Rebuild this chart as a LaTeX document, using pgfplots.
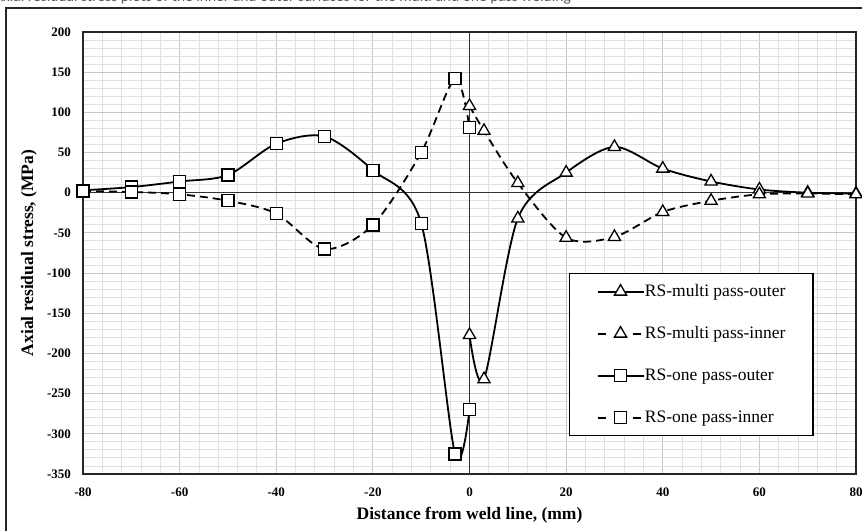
\documentclass[border=0pt]{standalone}
\usepackage{fontspec}
\setmainfont{Liberation Serif}
\newfontfamily\capfont{Carlito}
\usepackage{pgfplots}
\usepackage{pgfplotstable}
\pgfplotsset{compat=1.18}
% legend sample: a line with the marker at its middle
\pgfplotsset{
  solidlegend/.style={legend image code/.code={
    \draw[##1, mark repeat=2, mark phase=2] plot coordinates {(0bp,0bp) (23bp,0bp) (46bp,0bp)};}},
  dashlegend/.style={legend image code/.code={
    \draw[##1, dash pattern=on 8bp off 27bp, mark repeat=2, mark phase=2] plot coordinates {(0bp,0bp) (23bp,0bp) (46bp,0bp)};}},
}

% Axial residual stress (MPa) against distance from the weld line (mm)
\pgfplotstableread{
x y
0 -177
3 -232
10 -32
20 25
30 57
40 30
50 14
60 4
70 0
80 -1
}\multiouter
\pgfplotstableread{
x y
0 108
3 77
10 12
20 -56
30 -55
40 -24
50 -10
60 -2
70 -1
80 -2
}\multiinner
\pgfplotstableread{
x y
-80 3
-70 7
-60 14
-50 22
-40 61
-30 70
-20 28
-10 -38
-3 -325
0 -270
}\oneouter
\pgfplotstableread{
x y
-80 2
-70 1
-60 -2
-50 -10
-40 -26
-30 -70
-20 -40
-10 50
-3 142
0 81
}\oneinner

\begin{document}
\begin{tikzpicture}[x=1bp,y=1bp]
\begin{scope}
\clip (0,0) rectangle (862,531);
% caption line above the chart frame
\node[anchor=base west, inner sep=0, text=black!65, font=\capfont\fontsize{15.5bp}{18bp}\selectfont]
  at (-6,529.5) {Axial residual stress plots of the inner and outer surfaces for the multi and one pass welding};
% chart frame
\draw[line width=1.4bp, black!85] (6,-20) rectangle (890,523);
\end{scope}
\begin{axis}[
  at={(83bp,57bp)}, anchor=south west,
  scale only axis, width=773bp, height=442bp,
  xmin=-80, xmax=80, ymin=-350, ymax=200,
  xtick={-80,-60,...,80}, ytick={-350,-300,...,200},
  minor x tick num=4, minor y tick num=4,
  grid=both,
  major grid style={draw=black!22, line width=0.9bp},
  minor grid style={draw=black!12, line width=0.9bp},
  major tick length=0pt, minor tick length=0pt,
  axis line style={line width=1.4bp, black!85},
  tick label style={font=\bfseries\fontsize{13bp}{15bp}\selectfont},
  /pgf/number format/assume math mode=true,
  yticklabel style={xshift=-8.5bp},
  xticklabel style={yshift=-10bp},
  xlabel={Distance from weld line, (mm)},
  ylabel={Axial residual stress, (MPa)},
  every axis x label/.style={at={(axis description cs:0.5,-0.0943)}, anchor=center,
    font=\bfseries\fontsize{17.5bp}{20bp}\selectfont},
  every axis y label/.style={at={(axis description cs:-0.0699,0.5)}, rotate=90, anchor=center,
    font=\bfseries\fontsize{17.5bp}{20bp}\selectfont},
  legend style={at={(axis description cs:0.6287,0.4548)}, anchor=north west,
    draw=black, line width=1.3bp, fill=white,
    font=\fontsize{17.5bp}{20bp}\selectfont,
    inner xsep=27bp, inner ysep=8bp, row sep=22bp,
    nodes={inner xsep=0.5bp, inner ysep=2bp, text height=12.5bp, text depth=3.5bp}},
  legend cell align=left,
  every axis plot/.append style={black, line width=1.8bp, smooth, tension=0.5},
  mark options={solid, fill=white, line width=1.3bp},
]
\draw[black!80, line width=0.7bp] (axis cs:0,-350) -- (axis cs:0,200);
\draw[black!80, line width=0.7bp] (axis cs:-80,0) -- (axis cs:80,0);

\addplot[mark=triangle*, mark size=7bp, solidlegend] table {\multiouter};
\addlegendentry{RS-multi pass-outer}
\addplot[dash pattern=on 8bp off 5bp, mark=triangle*, mark size=7bp, dashlegend] table {\multiinner};
\addlegendentry{RS-multi pass-inner}
\addplot[mark=square*, mark size=6bp, solidlegend] table {\oneouter};
\addlegendentry{RS-one pass-outer}
\addplot[dash pattern=on 8bp off 5bp, mark=square*, mark size=6bp, dashlegend] table {\oneinner};
\addlegendentry{RS-one pass-inner}
\end{axis}
\pgfresetboundingbox
\useasboundingbox (0,0) rectangle (862,531);
\end{tikzpicture}
\end{document}
